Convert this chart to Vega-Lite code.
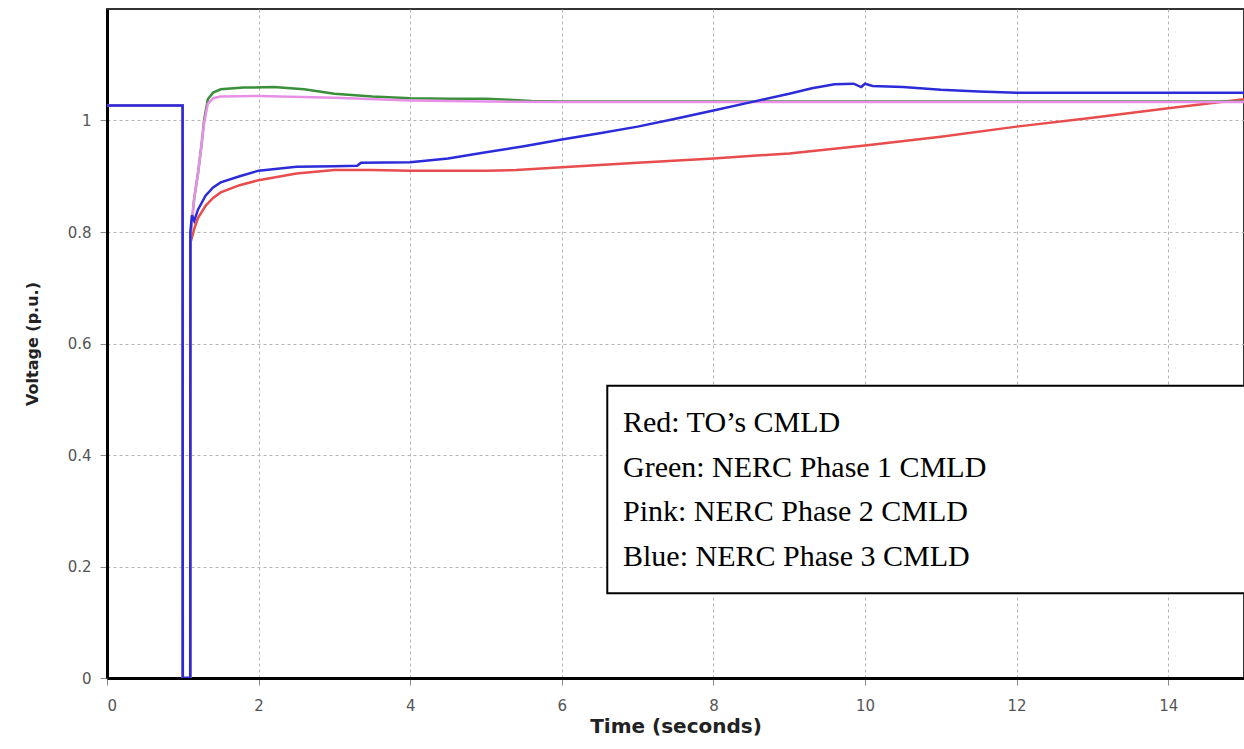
{
  "$schema": "https://vega.github.io/schema/vega-lite/v6.json",
  "width": 1137,
  "height": 669,
  "autosize": {"type": "none"},
  "padding": {"left": 107, "top": 9, "right": 0, "bottom": 71},
  "background": "white",
  "config": {
    "view": {"stroke": "#333333", "strokeWidth": 2},
    "axis": {
      "domainColor": "black",
      "domainWidth": 3,
      "tickColor": "#888888",
      "tickSize": 7,
      "labelFont": "DejaVu Sans",
      "labelFontSize": 15,
      "labelColor": "#555555",
      "titleFont": "DejaVu Sans",
      "titleFontWeight": "bold",
      "titleColor": "#222222",
      "grid": true,
      "gridColor": "#b5b5b5",
      "gridDash": [3, 3],
      "gridWidth": 1
    }
  },
  "datasets": {
    "curves": [
      {"s": "Red: TO’s CMLD", "t": 0, "v": 1.027},
      {"s": "Red: TO’s CMLD", "t": 0.998, "v": 1.027},
      {"s": "Red: TO’s CMLD", "t": 1.0, "v": 0},
      {"s": "Red: TO’s CMLD", "t": 1.098, "v": 0},
      {"s": "Red: TO’s CMLD", "t": 1.1, "v": 0.78},
      {"s": "Red: TO’s CMLD", "t": 1.15, "v": 0.805},
      {"s": "Red: TO’s CMLD", "t": 1.2, "v": 0.825},
      {"s": "Red: TO’s CMLD", "t": 1.3, "v": 0.847},
      {"s": "Red: TO’s CMLD", "t": 1.4, "v": 0.861},
      {"s": "Red: TO’s CMLD", "t": 1.5, "v": 0.871},
      {"s": "Red: TO’s CMLD", "t": 1.75, "v": 0.884},
      {"s": "Red: TO’s CMLD", "t": 2.0, "v": 0.893},
      {"s": "Red: TO’s CMLD", "t": 2.5, "v": 0.905},
      {"s": "Red: TO’s CMLD", "t": 3.0, "v": 0.911},
      {"s": "Red: TO’s CMLD", "t": 3.5, "v": 0.911},
      {"s": "Red: TO’s CMLD", "t": 4.0, "v": 0.91},
      {"s": "Red: TO’s CMLD", "t": 5.0, "v": 0.91},
      {"s": "Red: TO’s CMLD", "t": 5.4, "v": 0.911},
      {"s": "Red: TO’s CMLD", "t": 6.0, "v": 0.916},
      {"s": "Red: TO’s CMLD", "t": 7.0, "v": 0.924},
      {"s": "Red: TO’s CMLD", "t": 8.0, "v": 0.932},
      {"s": "Red: TO’s CMLD", "t": 9.0, "v": 0.941},
      {"s": "Red: TO’s CMLD", "t": 10.0, "v": 0.955},
      {"s": "Red: TO’s CMLD", "t": 11.0, "v": 0.971},
      {"s": "Red: TO’s CMLD", "t": 12.0, "v": 0.989},
      {"s": "Red: TO’s CMLD", "t": 13.0, "v": 1.005},
      {"s": "Red: TO’s CMLD", "t": 14.0, "v": 1.022},
      {"s": "Red: TO’s CMLD", "t": 15.0, "v": 1.038},

      {"s": "Green: NERC Phase 1 CMLD", "t": 0, "v": 1.027},
      {"s": "Green: NERC Phase 1 CMLD", "t": 0.998, "v": 1.027},
      {"s": "Green: NERC Phase 1 CMLD", "t": 1.0, "v": 0},
      {"s": "Green: NERC Phase 1 CMLD", "t": 1.098, "v": 0},
      {"s": "Green: NERC Phase 1 CMLD", "t": 1.1, "v": 0.79},
      {"s": "Green: NERC Phase 1 CMLD", "t": 1.15, "v": 0.86},
      {"s": "Green: NERC Phase 1 CMLD", "t": 1.2, "v": 0.905},
      {"s": "Green: NERC Phase 1 CMLD", "t": 1.25, "v": 0.96},
      {"s": "Green: NERC Phase 1 CMLD", "t": 1.28, "v": 1.0},
      {"s": "Green: NERC Phase 1 CMLD", "t": 1.33, "v": 1.038},
      {"s": "Green: NERC Phase 1 CMLD", "t": 1.4, "v": 1.05},
      {"s": "Green: NERC Phase 1 CMLD", "t": 1.5, "v": 1.056},
      {"s": "Green: NERC Phase 1 CMLD", "t": 1.8, "v": 1.059},
      {"s": "Green: NERC Phase 1 CMLD", "t": 2.2, "v": 1.06},
      {"s": "Green: NERC Phase 1 CMLD", "t": 2.6, "v": 1.056},
      {"s": "Green: NERC Phase 1 CMLD", "t": 3.0, "v": 1.048},
      {"s": "Green: NERC Phase 1 CMLD", "t": 3.5, "v": 1.043},
      {"s": "Green: NERC Phase 1 CMLD", "t": 4.0, "v": 1.04},
      {"s": "Green: NERC Phase 1 CMLD", "t": 4.5, "v": 1.039},
      {"s": "Green: NERC Phase 1 CMLD", "t": 5.0, "v": 1.039},
      {"s": "Green: NERC Phase 1 CMLD", "t": 5.3, "v": 1.037},
      {"s": "Green: NERC Phase 1 CMLD", "t": 5.6, "v": 1.035},
      {"s": "Green: NERC Phase 1 CMLD", "t": 6.0, "v": 1.034},
      {"s": "Green: NERC Phase 1 CMLD", "t": 10.0, "v": 1.034},
      {"s": "Green: NERC Phase 1 CMLD", "t": 15.0, "v": 1.034},

      {"s": "Pink: NERC Phase 2 CMLD", "t": 0, "v": 1.027},
      {"s": "Pink: NERC Phase 2 CMLD", "t": 0.998, "v": 1.027},
      {"s": "Pink: NERC Phase 2 CMLD", "t": 1.0, "v": 0},
      {"s": "Pink: NERC Phase 2 CMLD", "t": 1.098, "v": 0},
      {"s": "Pink: NERC Phase 2 CMLD", "t": 1.1, "v": 0.79},
      {"s": "Pink: NERC Phase 2 CMLD", "t": 1.15, "v": 0.86},
      {"s": "Pink: NERC Phase 2 CMLD", "t": 1.2, "v": 0.905},
      {"s": "Pink: NERC Phase 2 CMLD", "t": 1.25, "v": 0.96},
      {"s": "Pink: NERC Phase 2 CMLD", "t": 1.28, "v": 0.995},
      {"s": "Pink: NERC Phase 2 CMLD", "t": 1.33, "v": 1.03},
      {"s": "Pink: NERC Phase 2 CMLD", "t": 1.4, "v": 1.04},
      {"s": "Pink: NERC Phase 2 CMLD", "t": 1.5, "v": 1.043},
      {"s": "Pink: NERC Phase 2 CMLD", "t": 2.0, "v": 1.044},
      {"s": "Pink: NERC Phase 2 CMLD", "t": 3.0, "v": 1.041},
      {"s": "Pink: NERC Phase 2 CMLD", "t": 4.0, "v": 1.036},
      {"s": "Pink: NERC Phase 2 CMLD", "t": 5.0, "v": 1.034},
      {"s": "Pink: NERC Phase 2 CMLD", "t": 6.0, "v": 1.033},
      {"s": "Pink: NERC Phase 2 CMLD", "t": 15.0, "v": 1.033},

      {"s": "Blue: NERC Phase 3 CMLD", "t": 0, "v": 1.027},
      {"s": "Blue: NERC Phase 3 CMLD", "t": 0.998, "v": 1.027},
      {"s": "Blue: NERC Phase 3 CMLD", "t": 1.0, "v": 0},
      {"s": "Blue: NERC Phase 3 CMLD", "t": 1.098, "v": 0},
      {"s": "Blue: NERC Phase 3 CMLD", "t": 1.1, "v": 0.8},
      {"s": "Blue: NERC Phase 3 CMLD", "t": 1.12, "v": 0.83},
      {"s": "Blue: NERC Phase 3 CMLD", "t": 1.15, "v": 0.82},
      {"s": "Blue: NERC Phase 3 CMLD", "t": 1.2, "v": 0.84},
      {"s": "Blue: NERC Phase 3 CMLD", "t": 1.3, "v": 0.865},
      {"s": "Blue: NERC Phase 3 CMLD", "t": 1.4, "v": 0.88},
      {"s": "Blue: NERC Phase 3 CMLD", "t": 1.5, "v": 0.889},
      {"s": "Blue: NERC Phase 3 CMLD", "t": 1.75, "v": 0.9},
      {"s": "Blue: NERC Phase 3 CMLD", "t": 2.0, "v": 0.91},
      {"s": "Blue: NERC Phase 3 CMLD", "t": 2.5, "v": 0.917},
      {"s": "Blue: NERC Phase 3 CMLD", "t": 3.0, "v": 0.918},
      {"s": "Blue: NERC Phase 3 CMLD", "t": 3.3, "v": 0.919},
      {"s": "Blue: NERC Phase 3 CMLD", "t": 3.35, "v": 0.924},
      {"s": "Blue: NERC Phase 3 CMLD", "t": 4.0, "v": 0.925},
      {"s": "Blue: NERC Phase 3 CMLD", "t": 4.5, "v": 0.932},
      {"s": "Blue: NERC Phase 3 CMLD", "t": 5.0, "v": 0.943},
      {"s": "Blue: NERC Phase 3 CMLD", "t": 5.5, "v": 0.954},
      {"s": "Blue: NERC Phase 3 CMLD", "t": 6.0, "v": 0.966},
      {"s": "Blue: NERC Phase 3 CMLD", "t": 6.5, "v": 0.977},
      {"s": "Blue: NERC Phase 3 CMLD", "t": 7.0, "v": 0.989},
      {"s": "Blue: NERC Phase 3 CMLD", "t": 7.5, "v": 1.003},
      {"s": "Blue: NERC Phase 3 CMLD", "t": 8.0, "v": 1.018},
      {"s": "Blue: NERC Phase 3 CMLD", "t": 8.5, "v": 1.033},
      {"s": "Blue: NERC Phase 3 CMLD", "t": 9.0, "v": 1.048},
      {"s": "Blue: NERC Phase 3 CMLD", "t": 9.3, "v": 1.058},
      {"s": "Blue: NERC Phase 3 CMLD", "t": 9.6, "v": 1.065},
      {"s": "Blue: NERC Phase 3 CMLD", "t": 9.85, "v": 1.066},
      {"s": "Blue: NERC Phase 3 CMLD", "t": 9.95, "v": 1.06},
      {"s": "Blue: NERC Phase 3 CMLD", "t": 10.0, "v": 1.066},
      {"s": "Blue: NERC Phase 3 CMLD", "t": 10.1, "v": 1.062},
      {"s": "Blue: NERC Phase 3 CMLD", "t": 10.5, "v": 1.06},
      {"s": "Blue: NERC Phase 3 CMLD", "t": 11.0, "v": 1.055},
      {"s": "Blue: NERC Phase 3 CMLD", "t": 11.5, "v": 1.052},
      {"s": "Blue: NERC Phase 3 CMLD", "t": 12.0, "v": 1.05},
      {"s": "Blue: NERC Phase 3 CMLD", "t": 15.0, "v": 1.05}
    ],
    "box": [{"x": 6.6, "x2": 15.5, "y": 0.152, "y2": 0.524}]
  },
  "layer": [
    {
      "data": {"name": "curves"},
      "mark": {"type": "line", "strokeWidth": 2.5, "clip": true},
      "encoding": {
        "x": {
          "field": "t",
          "type": "quantitative",
          "scale": {"domain": [0, 15], "nice": false, "zero": false},
          "axis": {
            "title": "Time (seconds)",
            "values": [0, 2, 4, 6, 8, 10, 12, 14],
            "format": "~g",
            "labelPadding": 13,
            "titleFontSize": 20,
            "titlePadding": 3
          }
        },
        "y": {
          "field": "v",
          "type": "quantitative",
          "scale": {"domain": [0, 1.2], "nice": false},
          "axis": {
            "title": "Voltage (p.u.)",
            "values": [0, 0.2, 0.4, 0.6, 0.8, 1],
            "format": "~g",
            "labelPadding": 9,
            "titleFontSize": 16,
            "titlePadding": 27
          }
        },
        "color": {
          "field": "s",
          "type": "nominal",
          "scale": {
            "domain": ["Red: TO’s CMLD", "Green: NERC Phase 1 CMLD", "Pink: NERC Phase 2 CMLD", "Blue: NERC Phase 3 CMLD"],
            "range": ["#e84c4c", "#3a8f3a", "#e890e8", "#2b2bd9"]
          },
          "legend": {
            "orient": "none",
            "legendX": 486,
            "legendY": 399,
            "title": null,
            "symbolSize": 0,
            "symbolStrokeWidth": 0,
            "symbolOpacity": 0,
            "labelOffset": 0,
            "labelFont": "Liberation Serif",
            "labelFontSize": 30,
            "labelColor": "black",
            "labelLimit": 1000,
            "rowPadding": 14.5,
            "padding": 0
          }
        }
      }
    },
    {
      "data": {"name": "box"},
      "mark": {"type": "rect", "fill": "white", "stroke": "black", "strokeWidth": 2, "clip": true},
      "encoding": {
        "x": {"field": "x", "type": "quantitative"},
        "x2": {"field": "x2"},
        "y": {"field": "y", "type": "quantitative"},
        "y2": {"field": "y2"}
      }
    }
  ]
}
